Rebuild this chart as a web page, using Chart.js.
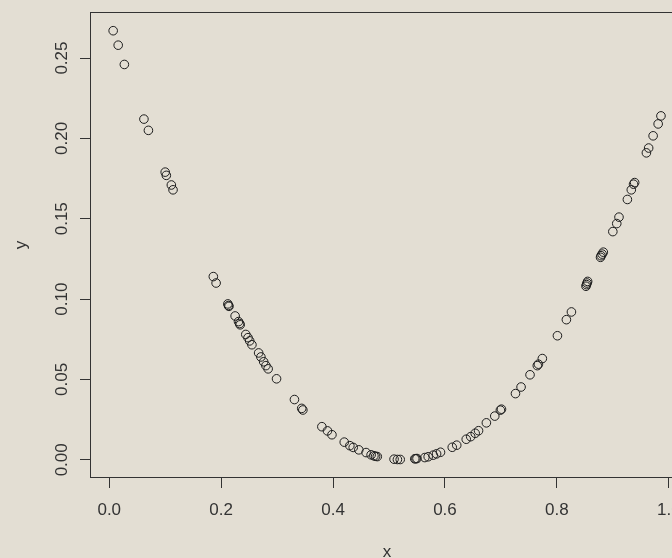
<!DOCTYPE html>
<html>
<head>
<meta charset="utf-8">
<script src="https://cdn.jsdelivr.net/npm/chart.js@4"></script>
<style>
  html, body { margin: 0; padding: 0; overflow: hidden; background: #e3ded3; }
  #wrap { position: absolute; left: 0; top: 0; width: 700px; height: 558px; }
</style>
</head>
<body>
<div id="wrap"><canvas id="chart" width="700" height="558"></canvas></div>
<script>
// sample points, x and y
const xs = [
  0.007, 0.016, 0.027, 0.062, 0.070, 0.100, 0.102, 0.111, 0.114, 0.186,
  0.191, 0.212, 0.214, 0.213, 0.225, 0.231, 0.233, 0.234, 0.244, 0.248,
  0.251, 0.255, 0.267, 0.271, 0.276, 0.280, 0.284, 0.299, 0.331, 0.344,
  0.346, 0.380, 0.390, 0.398, 0.420, 0.430, 0.436, 0.446, 0.459, 0.468,
  0.473, 0.476, 0.479, 0.509, 0.515, 0.520, 0.546, 0.548, 0.550, 0.564,
  0.570, 0.579, 0.585, 0.592, 0.613, 0.621, 0.638, 0.646, 0.654, 0.660,
  0.674, 0.689, 0.699, 0.701, 0.726, 0.736, 0.752, 0.765, 0.767, 0.774,
  0.801, 0.817, 0.826, 0.852, 0.853, 0.854, 0.855, 0.878, 0.879, 0.881,
  0.883, 0.900, 0.907, 0.911, 0.926, 0.933, 0.937, 0.939, 0.960, 0.964,
  0.972, 0.981, 0.986
];
const ys = [
  0.267, 0.258, 0.246, 0.212, 0.205, 0.179, 0.177, 0.171, 0.168, 0.114,
  0.110, 0.097, 0.0955, 0.096, 0.0895, 0.086, 0.0848, 0.084, 0.078, 0.076,
  0.074, 0.0716, 0.0665, 0.064, 0.061, 0.0586, 0.0566, 0.0504, 0.0375, 0.032,
  0.031, 0.0206, 0.018, 0.0156, 0.011, 0.0088, 0.0077, 0.0062, 0.0045, 0.0031,
  0.0025, 0.0022, 0.0020, 0.0004, 0.0002, 0.0002, 0.0006, 0.0007, 0.0008, 0.0014,
  0.0019, 0.0029, 0.0037, 0.0047, 0.0078, 0.0091, 0.0128, 0.0144, 0.0165, 0.0181,
  0.0230, 0.0272, 0.0309, 0.0315, 0.0412, 0.0453, 0.0529, 0.0586, 0.0595, 0.063,
  0.0772, 0.0872, 0.092, 0.108, 0.109, 0.110, 0.111, 0.126, 0.127, 0.128,
  0.1292, 0.142, 0.147, 0.151, 0.162, 0.168, 0.1715, 0.1725, 0.191, 0.194,
  0.2016, 0.209, 0.214
];

// axis ranges (data range padded 4% each side)
const xRange = [-0.0326, 1.0254];
const yRange = [-0.0107, 0.2779];
const xStep = 0.2;
const yStep = 0.05;
const xTitle = "x";
const yTitle = "y";

const ink = "#333333";
const fontFamily = "'Liberation Sans', Arial, sans-serif";

// box around the plot, rotated y labels, axis titles
const frame = {
  id: "frame",
  afterDraw(chart) {
    const ctx = chart.ctx;
    const area = chart.chartArea;
    ctx.save();
    ctx.strokeStyle = ink;
    ctx.lineWidth = 1;
    ctx.strokeRect(Math.round(area.left) - 0.5, Math.round(area.top) - 0.5,
      Math.round(area.right - area.left) + 1, Math.round(area.bottom - area.top) + 1);

    ctx.fillStyle = ink;
    ctx.font = "17px " + fontFamily;
    ctx.textAlign = "center";
    ctx.textBaseline = "alphabetic";

    const ys_ = chart.scales.y;
    ys_.ticks.forEach((t) => {
      const py = ys_.getPixelForValue(t.value);
      ctx.save();
      ctx.translate(67, py);
      ctx.rotate(-Math.PI / 2);
      ctx.fillText(t.value.toFixed(2), 0, 0);
      ctx.restore();
    });

    ctx.fillText(xTitle, (area.left + area.right) / 2, 557);
    ctx.save();
    ctx.translate(26, (area.top + area.bottom) / 2);
    ctx.rotate(-Math.PI / 2);
    ctx.fillText(yTitle, 0, 0);
    ctx.restore();
    ctx.restore();
  },
};

new Chart(document.getElementById("chart"), {
  type: "scatter",
  data: {
    datasets: [
      {
        data: xs.map((x, i) => ({ x: x, y: ys[i] })),
        pointRadius: 4.3,
        pointHoverRadius: 4.3,
        pointBorderWidth: 1,
        borderColor: "#1c1c1c",
        backgroundColor: "rgba(0,0,0,0)",
      },
    ],
  },
  options: {
    responsive: false,
    animation: false,
    events: [],
    layout: { padding: { top: 10, right: 17, left: 0, bottom: 0 } },
    plugins: { legend: { display: false }, tooltip: { enabled: false } },
    scales: {
      x: {
        type: "linear",
        min: xRange[0],
        max: xRange[1],
        afterFit: (s) => { s.height = 81; },
        border: { display: false },
        grid: { drawOnChartArea: false, drawTicks: true, tickLength: 11, color: ink, lineWidth: 1 },
        ticks: {
          stepSize: xStep,
          includeBounds: false,
          autoSkip: false,
          maxRotation: 0,
          padding: 12,
          color: ink,
          font: { family: fontFamily, size: 17 },
          callback: (v) => Number(v).toFixed(1),
        },
      },
      y: {
        type: "linear",
        min: yRange[0],
        max: yRange[1],
        afterFit: (s) => { s.width = 91; },
        border: { display: false },
        grid: { drawOnChartArea: false, drawTicks: true, tickLength: 11, color: ink, lineWidth: 1 },
        ticks: {
          stepSize: yStep,
          includeBounds: false,
          autoSkip: false,
          color: "rgba(0,0,0,0)",
          font: { family: fontFamily, size: 17 },
          callback: (v) => Number(v).toFixed(2),
        },
      },
    },
  },
  plugins: [frame],
});
</script>
</body>
</html>
